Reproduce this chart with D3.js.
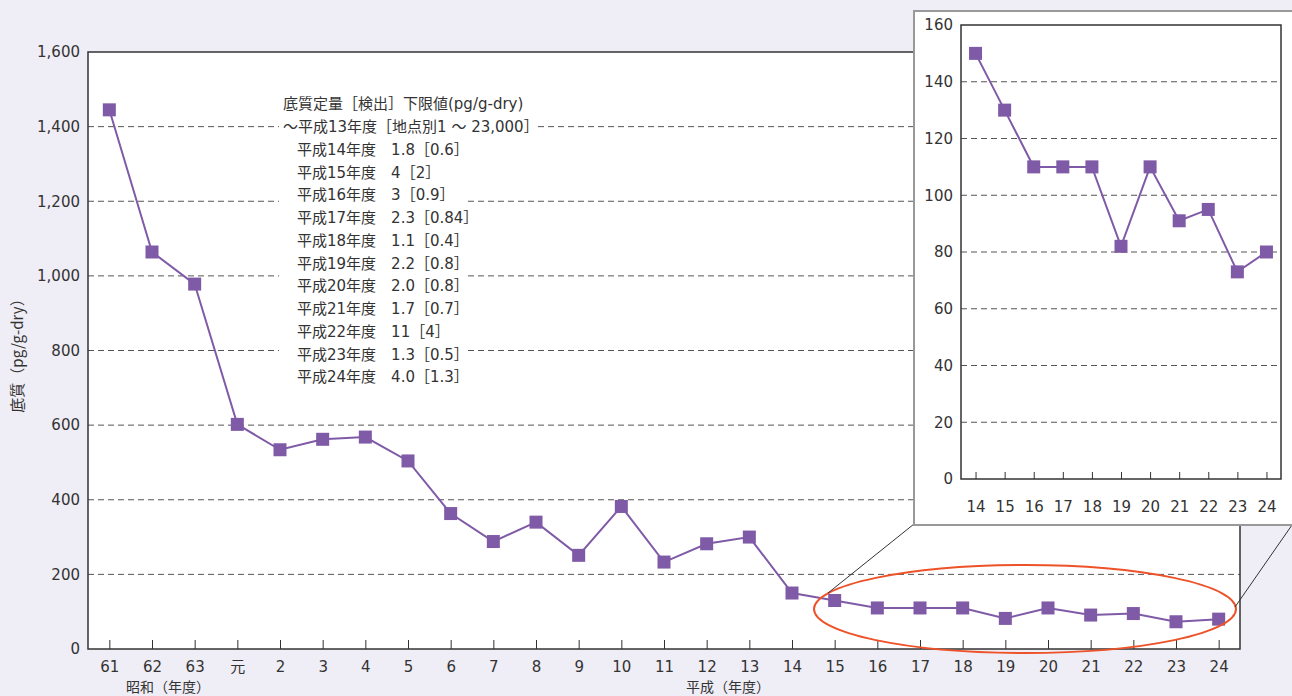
<!DOCTYPE html>
<html>
<head>
<meta charset="utf-8">
<script src="https://cdn.jsdelivr.net/npm/d3@7"></script>
<style>
  body { margin: 0; background: #efedf5; }
  svg { display: block; font-family: "DejaVu Sans", "Noto Sans CJK JP", sans-serif; }
</style>
</head>
<body>
<svg id="chart" width="1292" height="696"></svg>
<script>
// fiscal years (Showa 61 .. Heisei 24)
const years = ["61","62","63","元","2","3","4","5","6","7","8","9","10","11","12","13","14","15","16","17","18","19","20","21","22","23","24"];
const values = [1445,1064,978,602,534,562,568,504,363,288,340,251,382,233,282,300,150,130,110,110,110,82,110,91,95,73,80];
const yTicks = [0,200,400,600,800,1000,1200,1400,1600];

// zoomed part (Heisei 14 .. 24)
const insetYears = ["14","15","16","17","18","19","20","21","22","23","24"];
const insetValues = [150,130,110,110,110,82,110,91,95,73,80];
const insetTicks = [0,20,40,60,80,100,120,140,160];

// detection limits note
const noteHead = ["底質定量［検出］下限値(pg/g-dry)", "～平成13年度［地点別1 ～ 23,000］"];
const noteYears = ["平成14年度","平成15年度","平成16年度","平成17年度","平成18年度","平成19年度","平成20年度","平成21年度","平成22年度","平成23年度","平成24年度"];
const noteLimits = ["1.8［0.6］","4［2］","3［0.9］","2.3［0.84］","1.1［0.4］","2.2［0.8］","2.0［0.8］","1.7［0.7］","11［4］","1.3［0.5］","4.0［1.3］"];

const purple = "#7f5aa6";
const textCol = "#333";
const svg = d3.select("#chart");

// ---------- main chart ----------
const x = d3.scalePoint().domain(years).range([88, 1240]).padding(0.5);
const y = d3.scaleLinear().domain([0, 1600]).range([649, 52]);

svg.append("rect").attr("x", 88).attr("y", 52).attr("width", 1152).attr("height", 597)
    .attr("fill", "#fff");

svg.append("g").selectAll("line")
    .data(yTicks.filter(d => d > 0 && d < 1600))
    .enter().append("line")
    .attr("x1", 88).attr("x2", 1240)
    .attr("y1", d => y(d)).attr("y2", d => y(d))
    .attr("stroke", "#555").attr("stroke-dasharray", "6,4").attr("stroke-width", 1);

svg.append("rect").attr("x", 88).attr("y", 52).attr("width", 1152).attr("height", 597)
    .attr("fill", "none").attr("stroke", "#333").attr("stroke-width", 1.5);

let yAxis = d3.axisLeft(y).tickValues(yTicks).tickSize(0).tickPadding(8).tickFormat(d3.format(","));
let gy = svg.append("g").attr("transform", "translate(88,0)").call(yAxis);
gy.select(".domain").remove();
gy.selectAll("text").attr("font-size", 15).attr("fill", textCol)
    .attr("font-family", "DejaVu Sans, Noto Sans CJK JP");

let xAxis = d3.axisBottom(x).tickSize(-9).tickPadding(12);
let gx = svg.append("g").attr("transform", "translate(0,649)").call(xAxis);
gx.select(".domain").remove();
gx.selectAll("line").attr("stroke", "#333");
gx.selectAll("text").attr("font-size", 15).attr("fill", textCol)
    .attr("font-family", "DejaVu Sans, Noto Sans CJK JP");

svg.append("text").attr("x", 168).attr("y", 692).attr("text-anchor", "middle")
    .attr("font-size", 14).attr("fill", textCol).text("昭和（年度）");
svg.append("text").attr("x", 728).attr("y", 692).attr("text-anchor", "middle")
    .attr("font-size", 14).attr("fill", textCol).text("平成（年度）");
svg.append("text").attr("transform", "translate(23,352) rotate(-90)").attr("text-anchor", "middle")
    .attr("font-size", 15).attr("fill", textCol).attr("font-family", "Noto Sans CJK JP")
    .text("底質（pg/g-dry）");

// note block with white backing
svg.append("rect").attr("x", 279).attr("y", 92).attr("width", 258).attr("height", 46).attr("fill", "#fff");
svg.append("rect").attr("x", 279).attr("y", 138).attr("width", 189).attr("height", 250).attr("fill", "#fff");
const note = svg.append("g").attr("font-size", 15).attr("fill", textCol);
noteHead.forEach((t, i) => {
    note.append("text").attr("x", 283).attr("y", 104 + i * 22.75).attr("dy", "0.35em").text(t);
});
noteYears.forEach((t, i) => {
    note.append("text").attr("x", 297).attr("y", 104 + (i + 2) * 22.75).attr("dy", "0.35em")
        .text(t + "　" + noteLimits[i]);
});

const line = d3.line().x((d, i) => x(years[i])).y(d => y(d));
svg.append("path").datum(values).attr("d", line)
    .attr("fill", "none").attr("stroke", purple).attr("stroke-width", 2);
svg.append("g").selectAll("rect").data(values).enter().append("rect")
    .attr("x", (d, i) => x(years[i]) - 6.5).attr("y", d => y(d) - 6.5)
    .attr("width", 13).attr("height", 13).attr("fill", purple);

// highlight ellipse and connectors
svg.append("ellipse").attr("cx", 1025).attr("cy", 609).attr("rx", 211).attr("ry", 44)
    .attr("fill", "none").attr("stroke", "#ee5228").attr("stroke-width", 2);
svg.append("line").attr("x1", 914).attr("y1", 524).attr("x2", 828).attr("y2", 593)
    .attr("stroke", "#333").attr("stroke-width", 1);
svg.append("line").attr("x1", 1292).attr("y1", 525).attr("x2", 1235).attr("y2", 607)
    .attr("stroke", "#333").attr("stroke-width", 1);

// ---------- inset ----------
const ix = d3.scalePoint().domain(insetYears).range([961, 1281]).padding(0.5);
const iy = d3.scaleLinear().domain([0, 160]).range([479, 25]);

svg.append("rect").attr("x", 914).attr("y", 11).attr("width", 400).attr("height", 514)
    .attr("fill", "#fff").attr("stroke", "#999").attr("stroke-width", 2);

svg.append("g").selectAll("line")
    .data(insetTicks.filter(d => d > 0 && d < 160))
    .enter().append("line")
    .attr("x1", 961).attr("x2", 1277)
    .attr("y1", d => iy(d)).attr("y2", d => iy(d))
    .attr("stroke", "#555").attr("stroke-dasharray", "6,4").attr("stroke-width", 1);

svg.append("rect").attr("x", 961).attr("y", 25).attr("width", 320).attr("height", 454)
    .attr("fill", "none").attr("stroke", "#333").attr("stroke-width", 1.5);

let iyAxis = d3.axisLeft(iy).tickValues(insetTicks).tickSize(0).tickPadding(8);
let giy = svg.append("g").attr("transform", "translate(961,0)").call(iyAxis);
giy.select(".domain").remove();
giy.selectAll("text").attr("font-size", 15).attr("fill", textCol)
    .attr("font-family", "DejaVu Sans, Noto Sans CJK JP");

let ixAxis = d3.axisBottom(ix).tickSize(-7).tickPadding(22);
let gix = svg.append("g").attr("transform", "translate(0,479)").call(ixAxis);
gix.select(".domain").remove();
gix.selectAll("line").attr("stroke", "#333");
gix.selectAll("text").attr("font-size", 15).attr("fill", textCol)
    .attr("font-family", "DejaVu Sans, Noto Sans CJK JP");

const iline = d3.line().x((d, i) => ix(insetYears[i])).y(d => iy(d));
svg.append("path").datum(insetValues).attr("d", iline)
    .attr("fill", "none").attr("stroke", purple).attr("stroke-width", 2);
svg.append("g").selectAll("rect").data(insetValues).enter().append("rect")
    .attr("x", (d, i) => ix(insetYears[i]) - 6.5).attr("y", d => iy(d) - 6.5)
    .attr("width", 13).attr("height", 13).attr("fill", purple);
</script>
</body>
</html>
